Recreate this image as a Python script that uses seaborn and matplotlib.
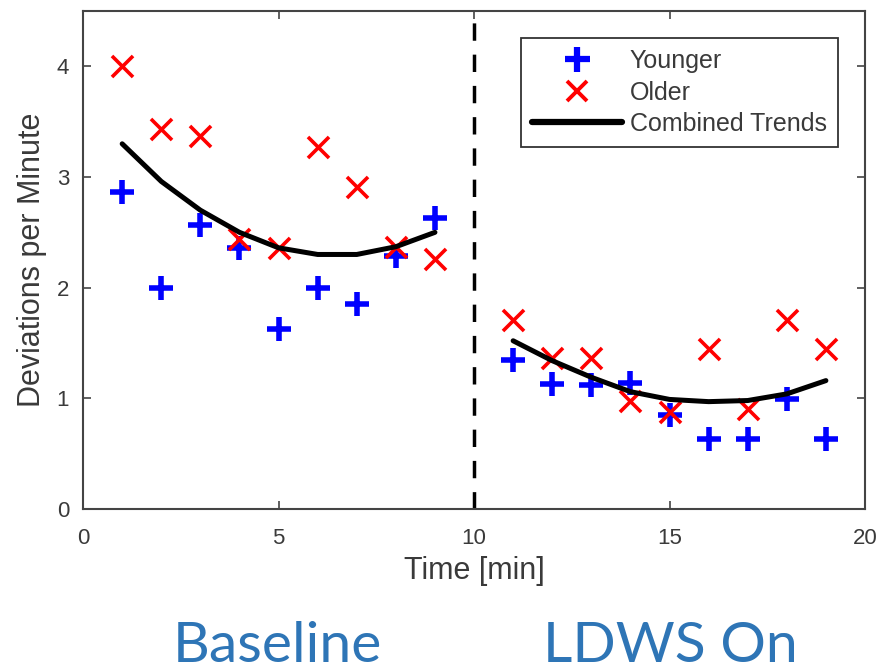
import matplotlib
matplotlib.use("Agg")
import matplotlib.pyplot as plt
import seaborn as sns
from matplotlib.lines import Line2D

# minutes, baseline (1-9) and LDWS on (11-19)
minutes = [1, 2, 3, 4, 5, 6, 7, 8, 9, 11, 12, 13, 14, 15, 16, 17, 18, 19]
younger = [2.86, 2.00, 2.57, 2.36, 1.63, 2.00, 1.85, 2.29, 2.63,
           1.35, 1.13, 1.12, 1.14, 0.85, 0.63, 0.63, 0.99, 0.63]
older = [4.00, 3.43, 3.37, 2.44, 2.36, 3.27, 2.91, 2.37, 2.26,
         1.71, 1.36, 1.36, 0.98, 0.88, 1.45, 0.90, 1.71, 1.45]

# combined trend curves
trend_base_x = [1, 2, 3, 4, 5, 6, 7, 8, 9]
trend_base_y = [3.30, 2.96, 2.70, 2.50, 2.36, 2.30, 2.30, 2.37, 2.50]
trend_ldws_x = [11, 12, 13, 14, 15, 16, 17, 18, 19]
trend_ldws_y = [1.52, 1.34, 1.19, 1.06, 0.99, 0.97, 0.98, 1.04, 1.16]

switch_time = 10
phase_labels = ["Baseline", "LDWS On"]

sns.set_theme(style="ticks")
plt.rcParams["font.family"] = ["Liberation Sans", "DejaVu Sans"]
text_color = "#3a3a3a"

fig = plt.figure(figsize=(8.84, 6.72), dpi=100)
ax = fig.add_axes([0.094, 0.2426, 0.8845, 0.741])

sns.scatterplot(x=minutes, y=younger, marker="+", s=300, linewidth=4,
                color="#0000ff", ax=ax, zorder=3)
sns.scatterplot(x=minutes, y=older, marker="x", s=230, linewidth=2.6,
                color="#ff0000", ax=ax, zorder=3)
sns.lineplot(x=trend_base_x, y=trend_base_y, color="black", lw=3.6, ax=ax, zorder=4)
sns.lineplot(x=trend_ldws_x, y=trend_ldws_y, color="black", lw=3.6, ax=ax, zorder=4)
ax.axvline(switch_time, color="black", lw=2.5, ls=(0, (5, 4)), zorder=2)

ax.set_xlim(0, 20)
ax.set_ylim(0, 4.5)
ax.set_xticks([0, 5, 10, 15, 20])
ax.set_yticks([0, 1, 2, 3, 4])
ax.tick_params(direction="in", length=6, width=1.2, top=True, right=True,
               labelsize=16, colors="#444444", labelcolor=text_color, pad=10)
ax.tick_params(axis="x", pad=14)
for sp in ax.spines.values():
    sp.set_color("#444444")
    sp.set_linewidth(1.5)
ax.set_xlabel("Time [min]", fontsize=22, color=text_color, labelpad=5)
ax.set_ylabel("Deviations per Minute", fontsize=22, color=text_color, labelpad=7)

handles = [
    Line2D([], [], marker="+", color="#0000ff", ls="", markersize=18, mew=4.5),
    Line2D([], [], marker="x", color="#ff0000", ls="", markersize=14, mew=2.8),
    Line2D([], [], color="black", lw=4.5),
]
leg = ax.legend(handles, ["Younger", "Older", "Combined Trends"], loc="upper right",
                bbox_to_anchor=(0.9655, 0.946), borderaxespad=0, fontsize=18,
                handlelength=3.6, fancybox=False, framealpha=1, edgecolor="#333333",
                borderpad=0.45, labelspacing=0.3, handletextpad=0.3)
leg.get_frame().set_linewidth(1.3)
for t in leg.get_texts():
    t.set_color(text_color)

for xpos, lab in zip([0.314, 0.758], phase_labels):
    fig.text(xpos, 0.0, lab, ha="center", va="bottom", fontsize=41,
             color="#2e75b6", family=["Lato", "DejaVu Sans"])

fig.savefig("out.png", dpi=100)
